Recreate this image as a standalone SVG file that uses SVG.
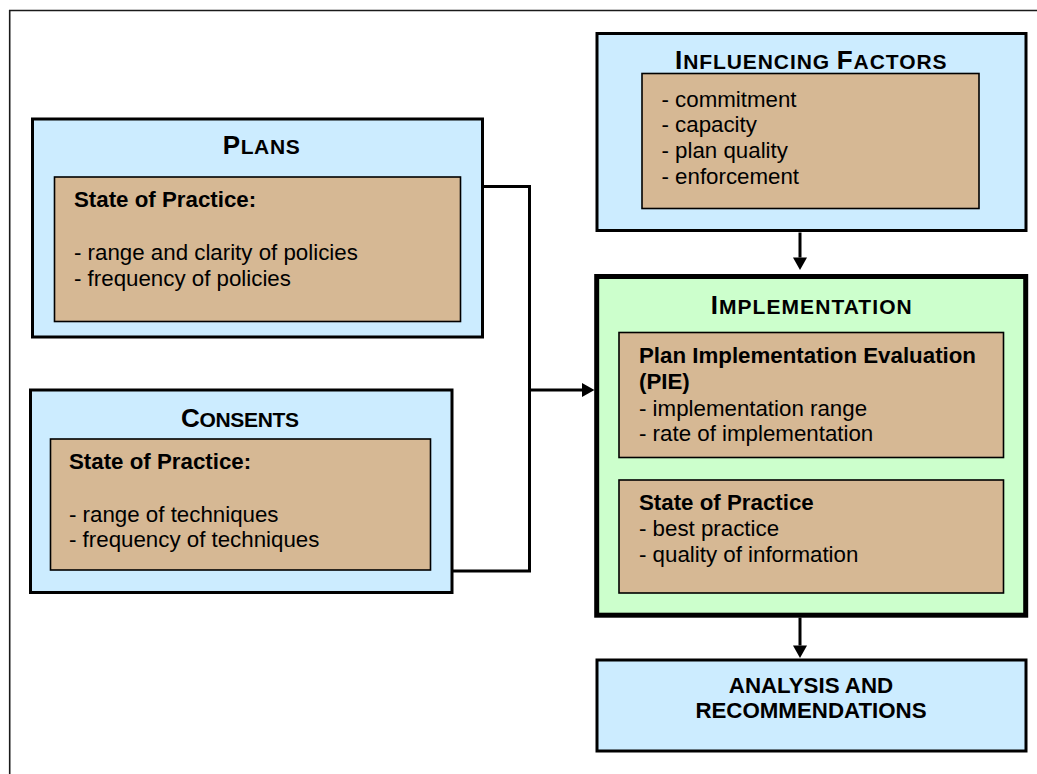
<svg xmlns="http://www.w3.org/2000/svg" width="1037" height="774" viewBox="0 0 1037 774">
<defs>
<style>
.frame{fill:none;stroke:#1a1a1a;stroke-width:1.6}
.outer{fill:#CCECFF;stroke:#000;stroke-width:3}
.impl{fill:#CCFFCC;stroke:#000;stroke-width:5}
.inner{fill:#D6B894;stroke:#000;stroke-width:1.6}
.conn{fill:none;stroke:#000;stroke-width:3}
text{font-family:"Liberation Sans",Arial,sans-serif;fill:#000}
.body{font-size:22.3px}
.bold{font-size:22.3px;font-weight:bold}
.title{font-weight:bold}
.big{font-size:26px}
.sm{font-size:21px}
</style>
<marker id="ah" markerUnits="userSpaceOnUse" markerWidth="13" markerHeight="15" refX="0" refY="7" orient="auto" overflow="visible">
<path d="M0,0 L12.5,7 L0,14 z" fill="#000"/>
</marker>
</defs>
<rect width="1037" height="774" fill="#fff"/>
<path class="frame" d="M9.7,780 V10.5 H1045"/>

<g id="connectors">
<path class="conn" d="M484,186.5 H529.5 V571 H453"/>
<path class="conn" d="M529.5,390 H582" marker-end="url(#ah)"/>
<path class="conn" d="M800,232.5 V257.5" marker-end="url(#ah)"/>
<path class="conn" d="M800,617.5 V645.5" marker-end="url(#ah)"/>
</g>

<g id="plans">
<rect class="outer" x="32.5" y="119" width="450" height="218"/>
<text class="title" x="222.7" y="154.3" textLength="77" lengthAdjust="spacing"><tspan class="big">P</tspan><tspan class="sm">LANS</tspan></text>
<rect class="inner" x="54.5" y="177" width="406" height="144.5"/>
<text class="bold" x="74" y="207">State of Practice:</text>
<text class="body" x="74" y="259.5">- range and clarity of policies</text>
<text class="body" x="74" y="285.5">- frequency of policies</text>
</g>

<g id="consents">
<rect class="outer" x="30.5" y="390" width="421.5" height="202.5"/>
<text class="title" x="181" y="427.3" textLength="118" lengthAdjust="spacing"><tspan class="big">C</tspan><tspan class="sm">ONSENTS</tspan></text>
<rect class="inner" x="50.5" y="439" width="380" height="131"/>
<text class="bold" x="69" y="469">State of Practice:</text>
<text class="body" x="69" y="521.5">- range of techniques</text>
<text class="body" x="69" y="547.3">- frequency of techniques</text>
</g>

<g id="influencing">
<rect class="outer" x="597" y="33.5" width="429" height="197"/>
<text class="title" x="675" y="69.3" textLength="271.5" lengthAdjust="spacing"><tspan class="big">I</tspan><tspan class="sm">NFLUENCING </tspan><tspan class="big">F</tspan><tspan class="sm">ACTORS</tspan></text>
<rect class="inner" x="642" y="73.5" width="337" height="135"/>
<text class="body" x="661.5" y="106.5">- commitment</text>
<text class="body" x="661.5" y="132.3">- capacity</text>
<text class="body" x="661.5" y="158">- plan quality</text>
<text class="body" x="661.5" y="183.7">- enforcement</text>
</g>

<g id="implementation">
<rect class="impl" x="596.7" y="276.5" width="429" height="338.7"/>
<text class="title" x="710.7" y="314.3" textLength="201" lengthAdjust="spacing"><tspan class="big">I</tspan><tspan class="sm">MPLEMENTATION</tspan></text>
<rect class="inner" x="619" y="332.5" width="384.5" height="125"/>
<text class="bold" x="639" y="363.3">Plan Implementation Evaluation</text>
<text class="bold" x="639" y="389.3">(PIE)</text>
<text class="body" x="639" y="415.5">- implementation range</text>
<text class="body" x="639" y="441.3">- rate of implementation</text>
<rect class="inner" x="619" y="480" width="384.5" height="113"/>
<text class="bold" x="639" y="510">State of Practice</text>
<text class="body" x="639" y="536">- best practice</text>
<text class="body" x="639" y="562">- quality of information</text>
</g>

<g id="analysis">
<rect class="outer" x="597" y="660" width="429" height="91"/>
<text class="bold" x="811" y="692.7" text-anchor="middle">ANALYSIS AND</text>
<text class="bold" x="811" y="718.3" text-anchor="middle">RECOMMENDATIONS</text>
</g>
</svg>
